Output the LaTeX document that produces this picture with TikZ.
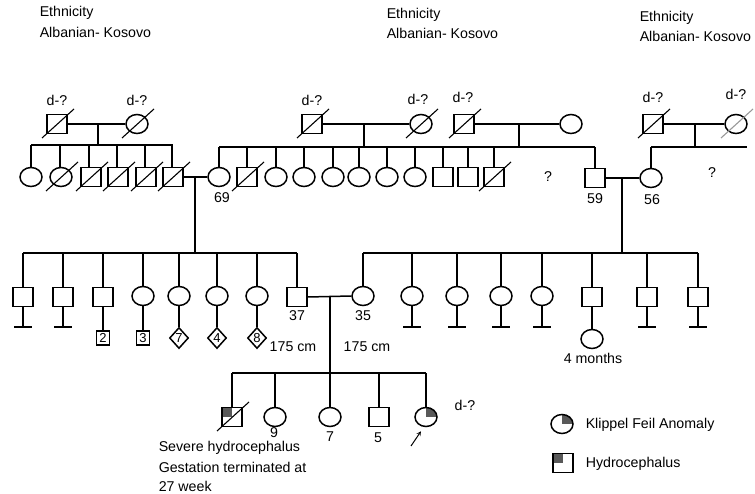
\documentclass[tikz,border=0pt]{standalone}
\usepackage{fontspec}
\setmainfont{Liberation Sans}
\usetikzlibrary{shapes.geometric}
\begin{document}
\begin{tikzpicture}[x=1pt,y=-1pt,line width=1.5pt,
  sq/.style={draw,rectangle,minimum width=20pt,minimum height=19pt,inner sep=0pt,fill=white},
  ci/.style={draw,ellipse,minimum width=22pt,minimum height=19pt,inner sep=0pt,fill=white},
  nbox/.style={draw,rectangle,minimum width=13pt,minimum height=14pt,inner sep=0pt,font=\fontsize{13}{13}\selectfont},
  dia/.style={draw,diamond,minimum width=19pt,minimum height=21pt,inner sep=0pt,font=\fontsize{13}{13}\selectfont},
  lbl/.style={font=\fontsize{14.2}{14.2}\selectfont,inner sep=0pt},
  lbll/.style={lbl,anchor=west},
  hydro/.style={path picture={\fill[black!65] (path picture bounding box.north west) rectangle (path picture bounding box.center);}},
  kfa/.style={path picture={\fill[black!65] (path picture bounding box.center) rectangle (path picture bounding box.north east);}},
]
\useasboundingbox (0,0) rectangle (755,494);
\newcommand{\dec}[2][black]{\draw[#1,line width=1.1pt] ([shift={(-15,14)}]#2.center) -- ([shift={(17,-15)}]#2.center);}
\newcommand{\tbar}[1]{\draw (#1.south) -- (#1.south |- 0,327) coordinate (#1t); \draw ([xshift=-9pt]#1t) -- ([xshift=9pt]#1t);}

% ethnicity labels
\node[lbll] (e1a) at (39,13) {Ethnicity};
\node[lbll] (e1b) at (39,32) {Albanian- Kosovo};
\node[lbll] (e2a) at (386,15) {Ethnicity};
\node[lbll] (e2b) at (386,33) {Albanian- Kosovo};
\node[lbll] (e3a) at (639,18) {Ethnicity};
\node[lbll] (e3b) at (639,36) {Albanian- Kosovo};

% ===== Generation I =====
\node[sq] (A1) at (57,124) {};
\node[ci] (A2) at (137,124) {};
\node[sq] (B1) at (312,124) {};
\node[ci] (B2) at (421,124) {};
\node[sq] (C1) at (464,124) {};
\node[ci] (C2) at (571,124) {};
\node[sq] (D1) at (653,124) {};
\node[ci] (D2) at (736,124) {};
\node[lbl] (dA1) at (57,100) {d-?};
\node[lbl] (dA2) at (137,100) {d-?};
\node[lbl] (dB1) at (312,100) {d-?};
\node[lbl] (dB2) at (418,99) {d-?};
\node[lbl] (dC1) at (463,97) {d-?};
\node[lbl] (dD1) at (653,97) {d-?};
\node[lbl] (dD2) at (736,94) {d-?};

\draw (A1.east) -- (A2.west);
\draw (B1.east) -- (B2.west);
\draw (C1.east) -- (C2.west);
\draw (D1.east) -- (D2.west);
\coordinate (mA) at (98,124);  \coordinate (sA) at (98,145);
\coordinate (mB) at (364,124); \coordinate (sB) at (364,147);
\coordinate (mC) at (519,124); \coordinate (sC) at (519,147);
\coordinate (mD) at (695,124); \coordinate (sD) at (695,147);
\draw (mA) -- (sA);
\draw (mB) -- (sB);
\draw (mC) -- (sC);
\draw (mD) -- (sD);

% ===== Generation II =====
\node[ci] (a1) at (31,177) {};
\node[ci] (a2) at (61,177) {};
\node[sq] (a3) at (91,177) {};
\node[sq] (a4) at (118,177) {};
\node[sq] (a5) at (146,177) {};
\node[sq] (a6) at (173,177) {};
\draw (sA -| a1) -- (sA -| a6);
\foreach \n/\x in {a1/31,a2/60,a3/89,a4/117,a5/145,a6/172}
  \draw (\x,145) -- (\x,177 |- \n.north);

\node[ci] (b1) at (219,177) {};
\node[sq] (b2) at (247,177) {};
\node[ci] (b3) at (276,177) {};
\node[ci] (b4) at (304,177) {};
\node[ci] (b5) at (333,177) {};
\node[ci] (b6) at (359,177) {};
\node[ci] (b7) at (387,177) {};
\node[ci] (b8) at (415,177) {};
\node[sq] (b9) at (443,177) {};
\node[sq] (b10) at (468,177) {};
\node[sq] (b11) at (494,177) {};
\node[sq] (b12) at (595,178) {};
\draw (sB -| b1) -- (sB -| b12);
\foreach \n in {b1,b2,b3,b4,b5,b6,b7,b8,b9,b10,b11,b12}
  \draw (\n.north |- sB) -- (\n.north);
\node[lbl] (q1) at (548,177) {?};

\node[ci] (d1) at (651,178) {};
\draw (sD -| d1) -- (sD -| 747,0);
\draw (d1.north |- sD) -- (d1.north);
\node[lbl] (q2) at (712,173) {?};

\node[lbl] (l69) at (222,198) {69};
\node[lbl] (l59) at (595,199) {59};
\node[lbl] (l56) at (652,200) {56};

% couples gen II
\draw (a6.east) -- (b1.west);
\coordinate (mE) at (195,177); \coordinate (sE) at (195,253);
\draw (mE) -- (sE);
\draw (b12.east) -- (d1.west);
\coordinate (mF) at (622,178); \coordinate (sF) at (622,253);
\draw (mF) -- (sF);

% deceased slashes gen I & II
\dec{A1} \dec{A2} \dec{B1} \dec{B2} \dec{C1} \dec{D1}
\dec[black!40]{D2}
\dec{a2} \dec{a3} \dec{a4} \dec{a5} \dec{a6}
\dec{b2} \dec{b11}

% ===== Generation III =====
\node[sq] (c1) at (23,297) {};
\node[sq] (c2) at (63,297) {};
\node[sq] (c3) at (103,297) {};
\node[ci] (c4) at (143,296) {};
\node[ci] (c5) at (179,296) {};
\node[ci] (c6) at (217,296) {};
\node[ci] (c7) at (257,296) {};
\node[sq] (c8) at (297,297) {};
\draw (sE -| c1) -- (sE -| c8);
\foreach \n in {c1,c2,c3,c4,c5,c6,c7,c8}
  \draw (\n.north |- sE) -- (\n.north);
\tbar{c1} \tbar{c2}
\node[nbox] (n2) at (103,338) {2};
\node[nbox] (n3) at (143,338) {3};
\node[dia] (n7) at (179,338) {7};
\node[dia] (n4) at (217,338) {4};
\node[dia] (n8) at (257,338) {8};
\draw (c3.south) -- (n2.north);
\draw (c4.south) -- (n3.north);
\draw (c5.south) -- (n7.north);
\draw (c6.south) -- (n4.north);
\draw (c7.south) -- (n8.north);
\node[lbl] (l37) at (297,316) {37};
\node[lbl] (h1) at (293,347) {175 cm};

\node[ci] (f1) at (363,296) {};
\node[ci] (f2) at (412,296) {};
\node[ci] (f3) at (457,296) {};
\node[ci] (f4) at (501,296) {};
\node[ci] (f5) at (542,296) {};
\node[sq] (f6) at (592,297) {};
\node[sq] (f7) at (647,297) {};
\node[sq] (f8) at (698,297) {};
\draw (sF -| f1) -- (sF -| f8);
\foreach \n in {f1,f2,f3,f4,f5,f6,f7,f8}
  \draw (\n.north |- sF) -- (\n.north);
\tbar{f2} \tbar{f3} \tbar{f4} \tbar{f5} \tbar{f7} \tbar{f8}
\node[ci] (g1) at (592,339) {};
\draw (f6.south) -- (g1.north);
\node[lbl] (l4m) at (593,358) {4 months};
\node[lbl] (l35) at (363,316) {35};
\node[lbl] (h2) at (367,347) {175 cm};

\draw (c8.east) -- (f1.west);
\coordinate (mG) at (330,296); \coordinate (sG) at (330,373);
\draw (mG) -- (sG);

% ===== Generation IV =====
\node[sq,hydro] (k1) at (232,417) {};
\node[ci] (k2) at (275,417) {};
\node[ci] (k3) at (330,417) {};
\node[sq] (k4) at (379,417) {};
\node[ci,kfa] (k5) at (426,417) {};
\draw (sG -| k1) -- (sG -| k5);
\foreach \n in {k1,k2,k3,k4,k5}
  \draw (\n.north |- sG) -- (\n.north);
\dec{k1}
\node[lbl] (l9) at (274,433) {9};
\node[lbl] (l7) at (330,437) {7};
\node[lbl] (l5) at (378,438) {5};
\node[lbl] (dk5) at (465,405) {d-?};
\coordinate (ar) at (411,446);
\draw[line width=1pt,-stealth] (ar) -- ([shift={(-5,4)}]k5.south);
\node[lbll] (t1) at (158,448) {Severe hydrocephalus};
\node[lbll] (t2) at (158,467) {Gestation terminated at};
\node[lbll] (t3) at (158,486) {27 week};

% legend
\node[ci,kfa] (L1) at (562,424) {};
\node[lbll] (L1t) at (585,425) {Klippel Feil Anomaly};
\node[sq,hydro] (L2) at (563,463) {};
\node[lbll] (L2t) at (585,464) {Hydrocephalus};
\end{tikzpicture}
\end{document}
